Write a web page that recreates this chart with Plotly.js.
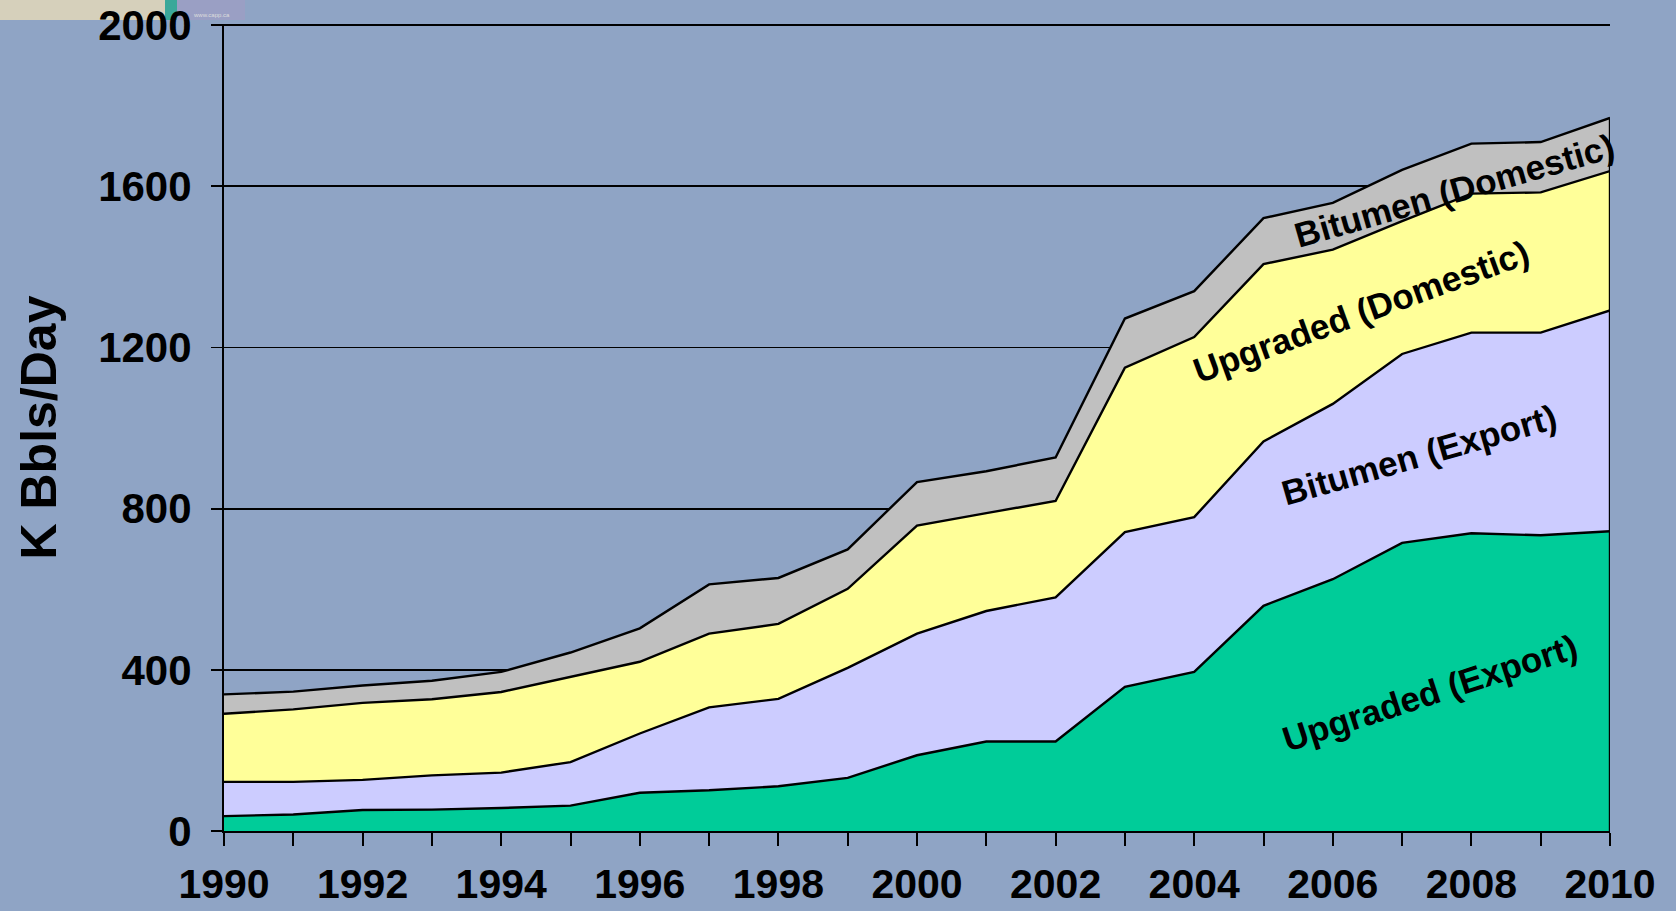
<!DOCTYPE html>
<html>
<head>
<meta charset="utf-8">
<script src="https://cdn.plot.ly/plotly-3.0.1.min.js"></script>
<style>
  html, body { margin: 0; padding: 0; background: #8fa4c5; }
  #chart { width: 1676px; height: 911px; }
</style>
</head>
<body>
<div id="chart"></div>
<script>
// oil sands production by type, K Bbls/Day
const years = [1990, 1991, 1992, 1993, 1994, 1995, 1996, 1997, 1998, 1999, 2000,
               2001, 2002, 2003, 2004, 2005, 2006, 2007, 2008, 2009, 2010];

const upgradedExport   = [37, 41, 52, 53, 57, 63, 95, 101, 111, 132, 188, 222, 222, 358, 395, 559, 625, 715, 739, 734, 744];
const bitumenExport    = [85, 81, 75, 85, 88, 108, 147, 206, 217, 273, 302, 324, 358, 384, 384, 408, 435, 469, 498, 503, 548];
const upgradedDomestic = [169, 180, 191, 189, 200, 212, 178, 183, 186, 196, 268, 243, 239, 408, 447, 440, 383, 330, 345, 348, 346];
const bitumenDomestic  = [48, 44, 43, 46, 50, 60, 83, 122, 114, 98, 108, 104, 108, 122, 114, 114, 116, 127, 124, 125, 132];

const seriesNames  = ["Upgraded (Export)", "Bitumen (Export)", "Upgraded (Domestic)", "Bitumen (Domestic)"];
const seriesValues = [upgradedExport, bitumenExport, upgradedDomestic, bitumenDomestic];
const seriesColors = ["#00cc99", "#ccccff", "#ffff99", "#c0c0c0"];

// where the in-chart labels sit (year, value, angle)
const labelX     = [2007.4, 2007.25, 2006.4, 2007.75];
const labelY     = [345, 935, 1290, 1590];
const labelAngle = [-18, -16, -20, -16];

const font = "Liberation Sans, Arial, sans-serif";

const data = seriesValues.map((vals, i) => ({
  x: years,
  y: vals,
  name: seriesNames[i],
  type: "scatter",
  mode: "lines",
  stackgroup: "one",
  fillcolor: seriesColors[i],
  line: { color: "black", width: 2.4 },
  hoverinfo: "skip"
}));

// closing edge on the right side of the stack
const lastIdx = years.length - 1;
const lastTotal = seriesValues.reduce((s, v) => s + v[lastIdx], 0);
data.push({
  x: [years[lastIdx], years[lastIdx]],
  y: [0, lastTotal],
  type: "scatter",
  mode: "lines",
  line: { color: "black", width: 2.4 },
  hoverinfo: "skip",
  showlegend: false
});

// helpers for placing decorations in pixel terms
const L = 224, R = 66, T = 24, B = 80;
const W = 1676 - L - R, H = 911 - T - B;
const px = x => (x - L) / W;
const py = y => (911 - B - y) / H;

const annotations = seriesNames.map((name, i) => ({
  x: labelX[i],
  y: labelY[i],
  text: "<b>" + name + "</b>",
  showarrow: false,
  textangle: labelAngle[i],
  font: { family: font, size: 35, color: "black" }
}));

annotations.push({
  xref: "paper", yref: "paper",
  x: px(38), y: 0.5,
  xanchor: "center", yanchor: "middle",
  text: "<b>K Bbls/Day</b>",
  textangle: -90,
  showarrow: false,
  font: { family: font, size: 50, color: "black" }
});

annotations.push({
  xref: "paper", yref: "paper",
  x: px(211), y: py(10),
  xanchor: "center",
  text: "www.capp.ca",
  showarrow: false,
  font: { family: font, size: 6, color: "#dddddd" }
});

const layout = {
  width: 1676,
  height: 911,
  margin: { l: L, r: R, t: T, b: B },
  paper_bgcolor: "#8fa4c5",
  plot_bgcolor: "#8fa4c5",
  showlegend: false,
  xaxis: {
    range: [1990, 2010],
    dtick: 2,
    tick0: 1990,
    ticks: "outside",
    ticklen: 13,
    tickwidth: 2,
    tickcolor: "black",
    minor: { dtick: 1, ticks: "outside", ticklen: 13, tickwidth: 2, tickcolor: "black", showgrid: false },
    showgrid: false,
    zeroline: false,
    showline: true,
    linecolor: "black",
    linewidth: 2,
    ticklabelstandoff: 3,
    tickfont: { family: font, size: 41, color: "black", weight: "bold" },
    fixedrange: true
  },
  yaxis: {
    range: [0, 2003],
    dtick: 400,
    ticks: "outside",
    ticklen: 11,
    tickwidth: 1.8,
    tickcolor: "black",
    showgrid: true,
    gridcolor: "black",
    gridwidth: 1.8,
    zeroline: false,
    showline: true,
    linecolor: "black",
    linewidth: 2,
    ticklabelstandoff: 11,
    tickfont: { family: font, size: 42, color: "black", weight: "bold" },
    fixedrange: true
  },
  annotations: annotations,
  shapes: [
    { type: "rect", xref: "paper", yref: "paper", x0: px(0), x1: px(165), y0: py(20), y1: py(0),
      fillcolor: "#d6d0bb", line: { width: 0 }, layer: "below" },
    { type: "rect", xref: "paper", yref: "paper", x0: px(165), x1: px(177), y0: py(20), y1: py(0),
      fillcolor: "#3aa89a", line: { width: 0 }, layer: "below" },
    { type: "rect", xref: "paper", yref: "paper", x0: px(177), x1: px(245), y0: py(20), y1: py(0),
      fillcolor: "#9a9fc4", line: { width: 0 }, layer: "below" }
  ]
};

Plotly.newPlot("chart", data, layout, { displayModeBar: false, staticPlot: true });
</script>
</body>
</html>
